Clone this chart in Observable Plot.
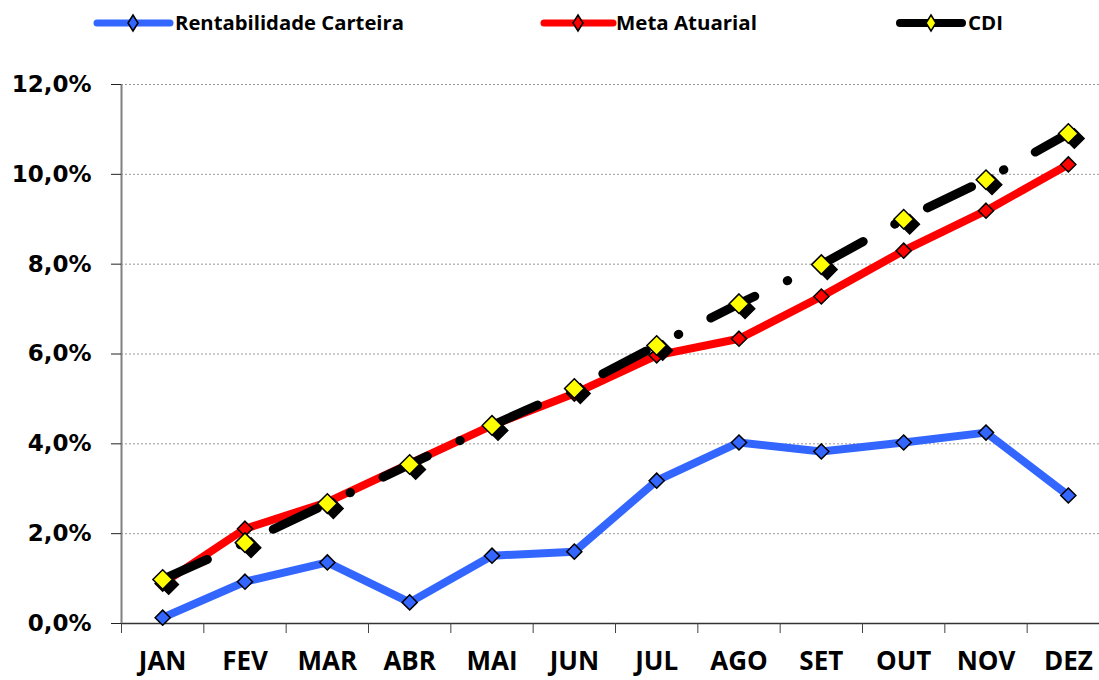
<!DOCTYPE html>
<html>
<head>
<meta charset="utf-8">
<script src="https://cdn.jsdelivr.net/npm/d3@7"></script>
<script src="https://cdn.jsdelivr.net/npm/@observablehq/plot@0.6"></script>
<style>
  html, body { margin: 0; padding: 0; background: #fff; overflow: hidden; width: 1099px; height: 680px; }
  #legend { display: block; }
  #chart svg { display: block; overflow: hidden; }
</style>
</head>
<body>
<svg id="legend" width="1099" height="45"></svg>
<div id="chart"></div>
<script>
const months = ["JAN","FEV","MAR","ABR","MAI","JUN","JUL","AGO","SET","OUT","NOV","DEZ"];
const rentabilidade = [0.13, 0.93, 1.36, 0.47, 1.51, 1.60, 3.18, 4.03, 3.83, 4.03, 4.25, 2.85];
const meta = [0.89, 2.11, 2.70, 3.56, 4.41, 5.12, 5.97, 6.34, 7.28, 8.30, 9.19, 10.22];
const cdi = [0.98, 1.80, 2.67, 3.54, 4.41, 5.23, 6.19, 7.12, 7.99, 9.00, 9.88, 10.91];
const seriesNames = ["Rentabilidade Carteira", "Meta Atuarial", "CDI"];
const yTicks = [0, 2, 4, 6, 8, 10, 12];

const BLUE = "#3366ff", RED = "#ff0000", YELLOW = "#ffff00";

const data = months.map((m, i) => ({i, m, r: rentabilidade[i], meta: meta[i], cdi: cdi[i]}));
const boundaries = d3.range(-0.5, months.length, 1);

const fmt = d => d.toFixed(1).replace(".", ",") + "%";

const chart = Plot.plot({
  width: 1099,
  height: 635,
  marginLeft: 121,
  marginRight: -10,
  marginTop: 39,
  marginBottom: 57,
  x: {type: "linear", domain: [-0.5, 11.5], range: [121, 1109]},
  y: {domain: [0, 12], range: [578, 39]},
  style: {background: "white", overflow: "hidden"},
  marks: [
    Plot.gridY(yTicks.slice(1), {stroke: "#999", strokeOpacity: 1, strokeDasharray: "2,2", strokeWidth: 1}),
    Plot.ruleY([0], {stroke: "#333", strokeWidth: 1.5}),
    Plot.ruleX([-0.5], {y1: 0, y2: 12, stroke: "#808080", strokeWidth: 2}),
    Plot.axisY({ticks: yTicks, tickFormat: fmt, tickSize: 10, tickPadding: 20, stroke: "#222",
      fontSize: 23, fontWeight: "bold", fontFamily: "DejaVu Sans", fill: "#000", label: null}),
    Plot.axisX({ticks: boundaries, tickFormat: () => "", tickSize: 10, stroke: "#444", label: null}),
    Plot.axisX({ticks: d3.range(months.length), tickFormat: i => months[i], tickSize: 0, tickPadding: 28,
      fontSize: 26, fontWeight: "bold", fontFamily: "Open Sans", fill: "#000", label: null}),
    // Rentabilidade Carteira
    Plot.line(data, {x: "i", y: "r", stroke: BLUE, strokeWidth: 8, strokeLinejoin: "round"}),
    Plot.dot(data, {x: "i", y: "r", symbol: "diamond2", r: 6.8, fill: BLUE, stroke: "black", strokeWidth: 1.5}),
    // Meta Atuarial
    Plot.line(data, {x: "i", y: "meta", stroke: RED, strokeWidth: 8, strokeLinejoin: "round"}),
    Plot.dot(data, {x: "i", y: "meta", symbol: "diamond2", r: 6.8, fill: RED, stroke: "black", strokeWidth: 1.5}),
    // CDI
    Plot.line(data, {x: "i", y: "cdi", stroke: "black", strokeWidth: 9, strokeLinecap: "round",
      strokeLinejoin: "round", strokeDasharray: "49,36,0.5,36"}),
    Plot.dot(data, {x: "i", y: "cdi", symbol: "diamond2", r: 8.8, fill: "black", stroke: "black", strokeWidth: 1.5, dx: 6, dy: 5}),
    Plot.dot(data, {x: "i", y: "cdi", symbol: "diamond2", r: 8.8, fill: YELLOW, stroke: "black", strokeWidth: 1.5})
  ]
});
document.getElementById("chart").appendChild(chart);

// Legend
const legend = d3.select("#legend");
const items = [
  {name: seriesNames[0], color: BLUE, fill: BLUE, x1: 97, x2: 170, mx: 133, tx: 175, tw: 229, w: 7},
  {name: seriesNames[1], color: RED, fill: RED, x1: 544, x2: 613, mx: 578, tx: 616, tw: 141, w: 7},
  {name: seriesNames[2], color: "black", fill: YELLOW, x1: 900, x2: 962, mx: 931, tx: 968, tw: 35, w: 8}
];
const ly = 23;
for (const it of items) {
  legend.append("line").attr("x1", it.x1).attr("x2", it.x2).attr("y1", ly).attr("y2", ly)
    .attr("stroke", it.color).attr("stroke-width", it.w).attr("stroke-linecap", "round");
  legend.append("path")
    .attr("d", `M${it.mx},${ly - 8}L${it.mx + 5},${ly}L${it.mx},${ly + 8}L${it.mx - 5},${ly}Z`)
    .attr("fill", it.fill).attr("stroke", "black").attr("stroke-width", 1.5);
  legend.append("text").attr("x", it.tx).attr("y", ly + 7)
    .attr("font-family", "Open Sans").attr("font-weight", "bold").attr("font-size", 19)
    .attr("textLength", it.tw).attr("lengthAdjust", "spacingAndGlyphs")
    .attr("fill", "#000").text(it.name);
}
</script>
</body>
</html>
